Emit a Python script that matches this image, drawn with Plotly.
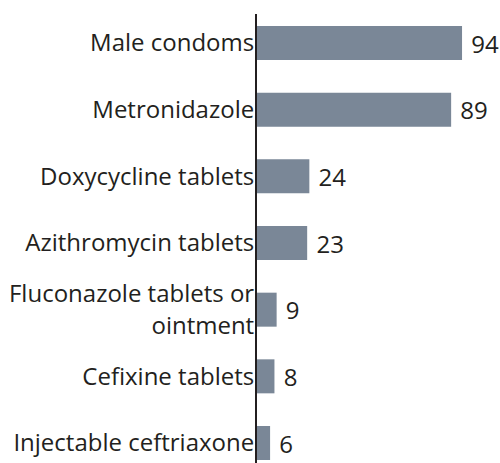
import plotly.graph_objects as go

# Commodities and the counts reported for each
categories = [
    "Male condoms",
    "Metronidazole",
    "Doxycycline tablets",
    "Azithromycin tablets",
    "Fluconazole tablets or<br>ointment",
    "Cefixine tablets",
    "Injectable ceftriaxone",
]
values = [94, 89, 24, 23, 9, 8, 6]

BAR_COLOR = "#7a8797"
TEXT_COLOR = "#231f20"
FONT = "Open Sans, sans-serif"
SIZE = 24

fig = go.Figure(
    go.Bar(
        x=values,
        y=categories,
        orientation="h",
        width=0.51,
        marker=dict(color=BAR_COLOR, line=dict(width=0)),
        text=["\u00a0" + str(v) for v in values],
        textposition="outside",
        textfont=dict(size=SIZE, color=TEXT_COLOR, family=FONT),
        cliponaxis=False,
        hoverinfo="skip",
    )
)

fig.update_layout(
    width=500,
    height=463,
    margin=dict(l=257, r=0, t=14, b=0),
    paper_bgcolor="white",
    plot_bgcolor="white",
    showlegend=False,
    font=dict(family=FONT, size=SIZE, color=TEXT_COLOR),
    xaxis=dict(
        range=[0, 111.4],
        visible=False,
        showgrid=False,
        zeroline=False,
    ),
    yaxis=dict(
        type="category",
        range=[6.3, -0.435],
        showline=True,
        linecolor=TEXT_COLOR,
        linewidth=2,
        showgrid=False,
        zeroline=False,
        ticks="",
        ticklabelstandoff=-4,
        tickfont=dict(size=SIZE, color=TEXT_COLOR, family=FONT),
    ),
)

fig.write_html("out.html")
